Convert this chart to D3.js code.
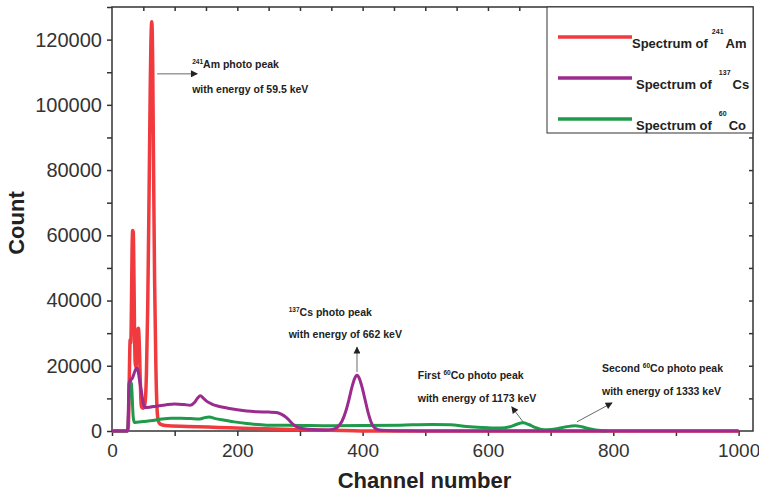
<!DOCTYPE html>
<html>
<head>
<meta charset="utf-8">
<script src="https://cdn.jsdelivr.net/npm/d3@7"></script>
<style>
  body { margin: 0; background: #fff; }
  svg { font-family: "Liberation Sans", Arial, sans-serif; }
</style>
</head>
<body>
<svg id="chart" width="759" height="493"></svg>
<script>
// spectra: [channel, count]
const amSpectrum = [[0,0],[24,0],[26,1500],[27,9000],[28,21000],[29,28000],[30,27000],[31,38000],[32,55000],[33,61500],[34,61000],[35,48000],[36,30000],[37,21000],[38,19500],[39,21500],[40,27000],[41,31000],[42,31500],[43,29500],[44,24000],[45,16000],[46,10000],[47,7500],[49,7000],[51,7200],[53,9000],[55,18000],[57,38000],[59,70000],[61,105000],[62,118000],[63.5,125500],[65,112000],[66,88000],[67,66000],[68,46000],[70,20000],[72,6500],[74,3000],[77,2100],[85,1700],[120,1400],[170,1100],[220,800],[270,550],[320,300],[370,150],[420,0],[1000,0]];
const csSpectrum = [[0,0],[25,0],[26,6000],[27,14500],[29,15500],[32,16000],[35,17500],[38,19000],[40,19300],[42,18000],[44,15500],[47,12000],[50,8500],[53,7200],[60,7300],[70,7600],[85,8000],[100,8300],[115,8100],[125,7900],[132,8800],[137,10200],[141,10800],[146,10000],[152,9000],[160,8200],[170,7600],[185,7000],[200,6500],[215,6100],[230,5900],[250,5800],[262,5700],[270,5200],[278,4200],[285,2800],[292,1600],[300,900],[315,500],[340,300],[352,500],[360,1200],[367,3000],[373,6000],[378,9500],[383,13500],[387,16000],[391,17100],[395,16000],[399,13500],[404,9500],[409,5500],[414,2500],[420,800],[430,200],[450,50],[500,0],[1000,0]];
const coSpectrum = [[0,0],[25,0],[26,3000],[27,9000],[28,13500],[30,15000],[31,14500],[32,11500],[33,7000],[34,4000],[36,2600],[40,2700],[50,2900],[65,3200],[80,3700],[95,3900],[110,3900],[125,3800],[140,3700],[148,4100],[155,4300],[165,3800],[180,3300],[195,2800],[215,2300],[247,1800],[300,1700],[350,1600],[400,1650],[460,1800],[510,2000],[540,1900],[566,1400],[600,1000],[620,900],[635,1300],[645,2000],[656,2500],[665,2000],[675,1100],[685,500],[695,400],[710,700],[725,1300],[739,1600],[750,1300],[762,700],[775,200],[790,0]];

const seriesNames = ["Am", "Cs", "Co"];
const seriesMass = ["241", "137", "60"];
const seriesColors = ["#f03a3e", "#9b2b8e", "#1f9a4b"];

const xTicks = [0, 200, 400, 600, 800, 1000];
const yTicks = [0, 20000, 40000, 60000, 80000, 100000, 120000];

// annotations in data units
const notes = [
  {mass: "241", lead: "", el: "Am photo peak", line2: "with energy of 59.5 keV", ch: 128, c1: 111300, c2: 103600},
  {mass: "137", lead: "", el: "Cs photo peak", line2: "with energy of 662 keV", ch: 282, c1: 35300, c2: 28500},
  {mass: "60", lead: "First ", el: "Co photo peak", line2: "with energy of 1173 keV", ch: 488, c1: 15900, c2: 8900},
  {mass: "60", lead: "Second ", el: "Co photo peak", line2: "with energy of 1333 keV", ch: 782, c1: 18100, c2: 11000}
];
const arrows = [
  [[72, 109500], [136, 109500]],
  [[391, 18100], [391, 25700]],
  [[656, 2800], [638, 7400]],
  [[742, 2800], [798, 8600]]
];

const svg = d3.select("#chart");
const m = {left: 112, top: 7, right: 753, bottom: 431};

const x = d3.scaleLinear().domain([0, 1023]).range([m.left, m.right]);
const y = d3.scaleLinear().domain([0, 130000]).range([m.bottom, m.top]);

// frame
svg.append("rect")
  .attr("x", m.left).attr("y", m.top)
  .attr("width", m.right - m.left).attr("height", m.bottom - m.top)
  .attr("fill", "none").attr("stroke", "#333").attr("stroke-width", 1.5);

// bottom axis
const xAxis = svg.append("g")
  .attr("transform", `translate(0,${m.bottom})`)
  .call(d3.axisBottom(x).tickValues(d3.range(0, 1001, 100)).tickSize(5).tickFormat(d => xTicks.includes(d) ? d : ""));
xAxis.select(".domain").remove();
xAxis.selectAll("line").attr("stroke", "#333").attr("stroke-width", 1.5);
xAxis.selectAll("text").attr("font-size", 19).attr("fill", "#333").attr("dy", "0.95em");

// left axis
const yAxis = svg.append("g")
  .attr("transform", `translate(${m.left},0)`)
  .call(d3.axisLeft(y).tickValues(d3.range(0, 130001, 10000)).tickSize(5).tickFormat(d => yTicks.includes(d) ? d : ""));
yAxis.select(".domain").remove();
yAxis.selectAll("line").attr("stroke", "#333").attr("stroke-width", 1.5);
yAxis.selectAll("text").attr("font-size", 20).attr("fill", "#333").attr("dx", "-0.1em");

// top and right mirror ticks, pointing inward
const topAxis = svg.append("g")
  .attr("transform", `translate(0,${m.top})`)
  .call(d3.axisBottom(x).tickValues(d3.range(50, 1001, 50)).tickSize(4).tickFormat(""));
topAxis.select(".domain").remove();
topAxis.selectAll("line").attr("stroke", "#333").attr("stroke-width", 1.5);

const rightAxis = svg.append("g")
  .attr("transform", `translate(${m.right},0)`)
  .call(d3.axisLeft(y).tickValues(d3.range(10000, 130001, 10000)).tickSize(4).tickFormat(""));
rightAxis.select(".domain").remove();
rightAxis.selectAll("line").attr("stroke", "#333").attr("stroke-width", 1.5);

// spectra
const line = d3.line()
  .x(d => x(d[0]))
  .y(d => y(d[1]))
  .curve(d3.curveMonotoneX);

const plot = svg.append("g");
[[amSpectrum, 0, 3.5], [coSpectrum, 2, 3], [csSpectrum, 1, 3]].forEach(([data, i, w]) => {
  plot.append("path")
    .datum(data)
    .attr("d", line)
    .attr("fill", "none")
    .attr("stroke", seriesColors[i])
    .attr("stroke-width", w)
    .attr("stroke-linejoin", "round");
});

// arrows
svg.append("defs").append("marker")
  .attr("id", "head")
  .attr("viewBox", "0 0 10 10")
  .attr("refX", 9).attr("refY", 5)
  .attr("markerWidth", 10).attr("markerHeight", 7)
  .attr("markerUnits", "userSpaceOnUse")
  .attr("orient", "auto")
  .append("path").attr("d", "M0,0L10,5L0,10z").attr("fill", "#222");

svg.append("g").selectAll("line")
  .data(arrows)
  .join("line")
  .attr("x1", d => x(d[0][0])).attr("y1", d => y(d[0][1]))
  .attr("x2", d => x(d[1][0])).attr("y2", d => y(d[1][1]))
  .attr("stroke", "#444").attr("stroke-width", 0.8)
  .attr("marker-end", "url(#head)");

// annotation text
const noteG = svg.append("g").attr("font-weight", "bold").attr("fill", "#222").attr("font-size", 10.5);
notes.forEach(n => {
  const t = noteG.append("text").attr("x", x(n.ch)).attr("y", y(n.c1));
  if (n.lead) t.append("tspan").text(n.lead);
  t.append("tspan").attr("font-size", 6.5).attr("dy", -4).text(n.mass);
  t.append("tspan").attr("dy", 4).text(n.el);
  noteG.append("text").attr("x", x(n.ch)).attr("y", y(n.c2)).text(n.line2);
});

// legend
const lg = svg.append("g");
lg.append("rect")
  .attr("x", 547).attr("y", m.top).attr("width", m.right - 547).attr("height", 126)
  .attr("fill", "#fff").attr("stroke", "#333").attr("stroke-width", 1);
seriesNames.forEach((name, i) => {
  const cy = 37 + i * 41;
  lg.append("line")
    .attr("x1", 558).attr("x2", 632).attr("y1", cy).attr("y2", cy)
    .attr("stroke", seriesColors[i]).attr("stroke-width", 3.5);
  const t = lg.append("text")
    .attr("x", i === 0 ? 632 : 636).attr("y", cy + 11)
    .attr("font-weight", "bold").attr("font-size", 13).attr("fill", "#222");
  t.append("tspan").text("Spectrum of");
  t.append("tspan").attr("font-size", 7).attr("dx", i === 0 ? 4 : 7).attr("dy", -14).text(seriesMass[i]);
  t.append("tspan").attr("dx", 2).attr("dy", 14).text(name);
});

// axis titles
svg.append("text")
  .attr("x", (m.left + m.right) / 2 - 8).attr("y", 488)
  .attr("text-anchor", "middle").attr("font-weight", "bold").attr("font-size", 22).attr("fill", "#222")
  .text("Channel number");
svg.append("text")
  .attr("transform", `translate(24,${(m.top + m.bottom) / 2 + 4}) rotate(-90)`)
  .attr("text-anchor", "middle").attr("font-weight", "bold").attr("font-size", 22).attr("fill", "#222")
  .text("Count");
</script>
</body>
</html>
